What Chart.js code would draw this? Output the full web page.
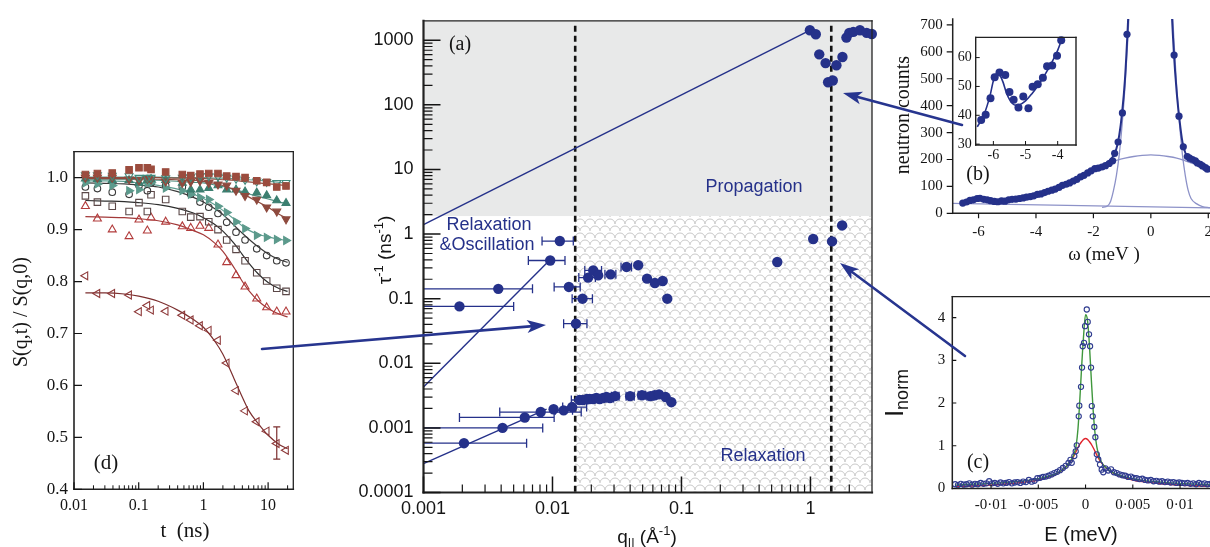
<!DOCTYPE html>
<html>
<head>
<meta charset="utf-8">
<title>Relaxation and propagation</title>
<script src="https://cdn.jsdelivr.net/npm/chart.js@4.4.1/dist/chart.umd.min.js"></script>
<style>
  html, body { margin: 0; padding: 0; background: #fff; }
  #page { position: relative; width: 1210px; height: 547px; overflow: hidden; background: #fff; }
  #page canvas { position: absolute; }
</style>
</head>
<body>
<div id="page">
  <canvas id="chartD"></canvas>
  <canvas id="chartA"></canvas>
  <canvas id="chartB"></canvas>
  <canvas id="chartC"></canvas>
  <canvas id="chartInset"></canvas>
  <canvas id="arrows"></canvas>
</div>
<script>
'use strict';

// ---------- panel (a): relaxation rates vs q ----------
var aQTicks = [0.001, 0.01, 0.1, 1];
var aQTickLabels = ['0.001', '0.01', '0.1', '1'];
var aRateTicks = [0.0001, 0.001, 0.01, 0.1, 1, 10, 100, 1000];
var aRateTickLabels = ['0.0001', '0.001', '0.01', '0.1', '1', '10', '100', '1000'];
var aBoundQ = [0.015, 1.45];
var aRegionRate = 1.9;

var propQ    = [0.99, 1.10, 1.17, 1.31, 1.37, 1.49, 1.59, 1.77, 1.90, 2.00, 2.15, 2.42, 2.73, 2.99];
var propRate = [1430, 1240, 605, 443, 224, 238, 410, 550, 1100, 1300, 1350, 1430, 1300, 1250];

var midQ    = [0.553, 1.05, 1.47, 1.76];
var midRate = [0.37, 0.84, 0.77, 1.36];

var oscQ    = [0.0019, 0.0038, 0.0096, 0.0114, 0.0134, 0.0152, 0.0171, 0.0189, 0.0207, 0.0226, 0.0282, 0.0375, 0.0462, 0.0541, 0.0622, 0.0715, 0.0776];
var oscRate = [0.076, 0.142, 0.39, 0.78, 0.152, 0.041, 0.1, 0.212, 0.274, 0.23, 0.238, 0.31, 0.33, 0.204, 0.175, 0.188, 0.1];
var oscQLo  = [0.0008, 0.0008, 0.0065, 0.0083, 0.0103, 0.0122, 0.0142, 0.016, 0.0178, null, 0.0255, 0.034, null, null, null, null, null];
var oscQHi  = [0.005, 0.007, 0.0125, 0.0145, 0.0164, 0.0185, 0.0204, 0.0215, 0.024, null, 0.031, 0.041, null, null, null, null, null];

var slowQ    = [0.00206, 0.0041, 0.0061, 0.0081, 0.0102, 0.0122, 0.0142, 0.0162, 0.0172, 0.0185, 0.0194, 0.0207, 0.0219, 0.0232, 0.0247, 0.0262, 0.0279, 0.0306, 0.0400, 0.0494, 0.0574, 0.0620, 0.0670, 0.0754, 0.0835];
var slowRate = [0.00058, 0.0010, 0.00145, 0.00176, 0.00194, 0.00187, 0.0021, 0.0027, 0.0027, 0.0028, 0.0028, 0.0028, 0.0029, 0.0028, 0.0029, 0.0030, 0.0029, 0.0031, 0.0031, 0.0032, 0.0031, 0.0032, 0.0033, 0.0030, 0.0025];
var slowQLo  = [0.0008, 0.0008, 0.0019, 0.0039, null, 0.0105, 0.0120, 0.0140, null, null, null, null, null, null, null, null, 0.0262, 0.0286, 0.0372, 0.0462, 0.0540, null, null, null, null];
var slowQHi  = [0.0063, 0.0084, 0.0103, 0.0167, null, 0.0143, 0.0184, 0.0188, null, null, null, null, null, null, null, null, 0.0298, 0.0328, 0.0430, 0.0528, 0.0610, null, null, null, null];

var fitPropQ = [0.001, 0.97],   fitPropRate = [1.4, 1400];
var fitOscQ  = [0.001, 0.0092], fitOscRate  = [0.0043, 0.37];
var fitSlowQ = [0.001, 0.009],  fitSlowRate = [0.00028, 0.00195];

// ---------- panel (d): S(q,t)/S(q,0) ----------
var dTTicks = [0.01, 0.1, 1, 10];
var dTTickLabels = ['0.01', '0.1', '1', '10'];
var dSTicks = [0.4, 0.5, 0.6, 0.7, 0.8, 0.9, 1.0];
var dSTickLabels = ['0.4', '0.5', '0.6', '0.7', '0.8', '0.9', '1.0'];

var dT = [0.015, 0.023, 0.039, 0.071, 0.101, 0.136, 0.155, 0.261, 0.472, 0.637, 0.885, 1.21, 1.68, 2.29, 3.19, 4.4, 6.67, 9.5, 13.6, 18.9];
var dSqFill      = [1.006, 1.008, 1.009, 1.015, 1.019, 1.019, 1.016, 1.011, 1.006, 1.004, 1.007, 1.008, 1.008, 1.003, 1.002, 1.000, 0.994, 0.991, 0.982, 0.984];
var dTriDownOpen = [1.005, 1.005, 1.004, 1.003, 1.000, 1.000, 1.000, 0.999, 1.000, 1.001, 1.003, 1.003, 1.002, 1.000, 0.998, 0.996, 0.993, 0.992, 0.990, 0.990];
var dTriDownFill = [1.000, 1.000, 1.000, 0.997, 0.995, 0.998, 0.997, 0.993, 0.990, 0.992, 0.994, 0.990, 0.987, 0.985, 0.975, 0.965, 0.958, 0.943, 0.935, 0.920];
var dTriUpFill   = [0.998, 0.997, 0.995, 0.995, 0.990, 0.995, 0.997, 0.995, 0.990, 0.977, 0.977, 0.980, 0.985, 0.977, 0.977, 0.973, 0.971, 0.966, 0.956, 0.951];
var dTriRight    = [0.990, 0.988, 0.985, 0.975, 0.977, 0.990, 0.990, 0.980, 0.975, 0.968, 0.962, 0.958, 0.945, 0.933, 0.915, 0.902, 0.889, 0.885, 0.881, 0.879];
var dCircle      = [0.982, 0.979, 0.972, 0.968, 0.985, 0.975, 0.990, 0.985, 0.982, 0.968, 0.953, 0.943, 0.931, 0.914, 0.895, 0.880, 0.863, 0.850, 0.840, 0.836];
var dSqOpen      = [0.965, 0.953, 0.945, 0.935, 0.952, 0.935, 0.967, 0.958, 0.935, 0.924, 0.925, 0.915, 0.900, 0.880, 0.862, 0.840, 0.817, 0.801, 0.787, 0.781];
var dTriUpOpen   = [0.945, 0.921, 0.900, 0.887, 0.919, 0.898, 0.923, 0.915, 0.906, 0.903, 0.907, 0.903, 0.871, 0.837, 0.812, 0.790, 0.767, 0.750, 0.742, 0.742];
var dTriLeft     = [0.811, 0.777, 0.777, 0.774, 0.742, 0.754, 0.745, 0.743, 0.735, 0.726, 0.715, 0.706, 0.687, 0.643, 0.590, 0.551, 0.530, 0.512, 0.488, 0.475];

var dFitT = [0.015, 0.03, 0.06, 0.1, 0.2, 0.4, 0.7, 1, 1.5, 2, 3, 4, 5, 7, 10, 15, 20];
var fSqFill      = [1.000, 1.000, 1.000, 1.000, 1.000, 0.999, 0.999, 0.998, 0.997, 0.996, 0.995, 0.993, 0.992, 0.990, 0.988, 0.986, 0.985];
var fTriDownOpen = [1.001, 1.001, 1.001, 1.001, 1.001, 1.000, 1.000, 1.000, 0.999, 0.999, 0.998, 0.997, 0.996, 0.995, 0.993, 0.991, 0.990];
var fTriDownFill = [0.998, 0.998, 0.998, 0.998, 0.997, 0.996, 0.995, 0.993, 0.989, 0.985, 0.977, 0.970, 0.963, 0.953, 0.943, 0.929, 0.921];
var fTriUpFill   = [0.997, 0.997, 0.997, 0.996, 0.995, 0.993, 0.991, 0.990, 0.986, 0.983, 0.977, 0.973, 0.969, 0.964, 0.959, 0.953, 0.950];
var fTriRight    = [0.994, 0.994, 0.993, 0.990, 0.985, 0.978, 0.968, 0.960, 0.948, 0.937, 0.920, 0.907, 0.899, 0.891, 0.886, 0.881, 0.879];
var fCircle      = [0.990, 0.989, 0.988, 0.986, 0.982, 0.973, 0.962, 0.953, 0.940, 0.929, 0.908, 0.893, 0.882, 0.867, 0.853, 0.842, 0.837];
var fSqOpen      = [0.956, 0.955, 0.954, 0.952, 0.948, 0.941, 0.932, 0.923, 0.910, 0.897, 0.873, 0.852, 0.836, 0.815, 0.798, 0.786, 0.781];
var fTriUpOpen   = [0.925, 0.924, 0.923, 0.921, 0.917, 0.909, 0.898, 0.890, 0.874, 0.858, 0.826, 0.800, 0.783, 0.763, 0.748, 0.737, 0.732];
var fTriLeft     = [0.778, 0.778, 0.776, 0.772, 0.762, 0.745, 0.727, 0.712, 0.685, 0.660, 0.612, 0.577, 0.552, 0.527, 0.504, 0.486, 0.478];

var dErrT = [13.6], dErrLo = [0.458], dErrHi = [0.52];

// ---------- panel (b): neutron counts ----------
var bWTicks = [-6, -4, -2, 0, 2];
var bWTickLabels = ['-6', '-4', '-2', '0', '2'];
var bCTicks = [0, 100, 200, 300, 400, 500, 600, 700];
var bCTickLabels = ['0', '100', '200', '300', '400', '500', '600', '700'];

var bW = [-6.55, -6.42, -6.3, -6.18, -6.05, -5.95, -5.82, -5.7, -5.58, -5.45,
          -5.33, -5.2, -5.08, -4.95, -4.83, -4.7, -4.58, -4.45, -4.33, -4.2,
          -4.08, -3.95, -3.83, -3.7, -3.58, -3.45, -3.33, -3.2, -3.08, -2.95,
          -2.83, -2.7, -2.58, -2.45, -2.33, -2.2, -2.08, -1.95, -1.83, -1.7,
          -1.58, -1.45, -1.33, -1.26, -1.14, -0.99, -0.83,
          0.81, 0.98, 1.13, 1.27, 1.35, 1.45, 1.55, 1.62, 1.72, 1.8, 1.9, 1.97];
var bCounts = [38, 42, 48, 50, 55, 56, 52, 50, 47, 44,
               43, 46, 45, 50, 52, 53, 55, 57, 60, 62,
               65, 70, 72, 77, 82, 86, 90, 96, 104, 108,
               113, 120, 126, 135, 141, 150, 158, 166, 168, 172,
               177, 185, 195, 223, 265, 373, 665,
               588, 361, 247, 211, 205, 200, 195, 187, 182, 176, 170, 164];

var bFitW = [-6.6, -6.4, -6.2, -6.0, -5.8, -5.6, -5.4, -5.2, -5.0, -4.6, -4.2, -3.8, -3.4, -3.0, -2.6, -2.2, -1.9, -1.6, -1.4, -1.3,
             -1.2, -1.1, -1.0, -0.9, -0.8, -0.7, -0.6, 0, 0.6, 0.7, 0.8, 0.9, 1.0, 1.1, 1.2, 1.3, 1.45, 1.6, 1.8, 2.06];
var bFitTotal = [38, 44, 50, 55, 54, 50, 46, 44, 45, 51, 60, 73, 89, 107, 128, 152, 168, 182, 200, 215,
                 240, 290, 375, 500, 700, 950, 1300, 3000, 1150, 820, 600, 450, 345, 265, 225, 208, 198, 188, 176, 160];
var bElW = [-1.7, -1.5, -1.4, -1.3, -1.2, -1.1, -1.0, -0.9, -0.8, -0.7, -0.6, 0, 0.6, 0.7, 0.8, 0.9, 1.0, 1.1, 1.2, 1.3, 1.4, 1.6, 1.8, 2.06];
var bElastic = [22, 28, 45, 85, 140, 218, 330, 470, 650, 870, 1150, 3000, 1150, 870, 650, 470, 330, 218, 140, 85, 55, 35, 25, 21];
var bBroadW = [-1.5, -1.2, -0.9, -0.6, -0.3, 0, 0.3, 0.6, 0.9, 1.2, 1.5, 1.8, 2.06];
var bBroad = [187, 197, 205, 211, 215, 217, 215, 211, 205, 195, 184, 170, 158];
var bBaseW = [-6.9, 2.06], bBase = [37, 20];

var bInWTicks = [-6, -5, -4], bInWTickLabels = ['-6', '-5', '-4'];
var bInCTicks = [30, 40, 50, 60], bInCTickLabels = ['30', '40', '50', '60'];
var bInW = [-6.38, -6.24, -6.09, -5.96, -5.81, -5.63, -5.5, -5.37, -5.22, -5.07, -4.91, -4.78, -4.62, -4.46, -4.33, -4.17, -4.02, -3.89];
var bInCounts = [38.4, 40.2, 45.9, 53.2, 54.8, 54, 48.1, 45.4, 42.7, 46.5, 42.4, 49.9, 50.8, 53, 57, 57.3, 60.6, 66];
var bInFitW = [-6.5, -6.3, -6.1, -6.0, -5.9, -5.8, -5.7, -5.6, -5.5, -5.4, -5.3, -5.2, -5.0, -4.8, -4.6, -4.4, -4.2, -4.0, -3.85];
var bInFit = [36, 40, 47, 52, 54.5, 54, 51.5, 48, 45.5, 44, 43.5, 43.6, 45, 47.5, 50.5, 54, 58, 62.5, 67];

// ---------- panel (c): normalised intensity ----------
var cETicks = [-0.01, -0.005, 0, 0.005, 0.01];
var cETickLabels = ['-0\u00b701', '-0\u00b7005', '0', '0\u00b7005', '0\u00b701'];
var cITicks = [0, 1, 2, 3, 4];
var cITickLabels = ['0', '1', '2', '3', '4'];

var cE = [-0.0138, -0.0135, -0.0132, -0.0129, -0.0126, -0.0123, -0.0120, -0.0117, -0.0114, -0.0111, -0.0108, -0.0105, -0.0102, -0.0099,
          -0.0096, -0.0093, -0.0090, -0.0087, -0.0084, -0.0081, -0.0078, -0.0075, -0.0072, -0.0069, -0.0066, -0.0063, -0.0060, -0.0057,
          -0.0054, -0.0051, -0.0048, -0.0045, -0.0042, -0.0039, -0.0036, -0.0033, -0.0030, -0.0027, -0.0024, -0.0021, -0.0018, -0.0016,
          -0.00146, -0.00119, -0.00104, -0.00093, -0.00072, -0.00066, -0.00048, -0.00037, -0.0003, -0.00016, -0.00005, 0.00013, 0.00023,
          0.00037, 0.00048, 0.00058, 0.00066, 0.00076, 0.00093, 0.00104, 0.00119, 0.00135, 0.00153, 0.00171, 0.00188,
          0.0021, 0.0024, 0.0027, 0.0030, 0.0033, 0.0036, 0.0039, 0.0042, 0.0045, 0.0048, 0.0051, 0.0054, 0.0057, 0.0060, 0.0063,
          0.0066, 0.0069, 0.0072, 0.0075, 0.0078, 0.0081, 0.0084, 0.0087, 0.0090, 0.0093, 0.0096, 0.0099, 0.0102, 0.0105, 0.0108,
          0.0111, 0.0114, 0.0117, 0.0120, 0.0123, 0.0126, 0.0129, 0.0132];
var cI = [0.10, 0.08, 0.11, 0.09, 0.10, 0.12, 0.09, 0.11, 0.10, 0.13, 0.11, 0.12, 0.17, 0.12,
          0.13, 0.11, 0.14, 0.12, 0.13, 0.15, 0.12, 0.14, 0.15, 0.13, 0.16, 0.15, 0.20, 0.16,
          0.18, 0.24, 0.25, 0.27, 0.28, 0.30, 0.33, 0.36, 0.39, 0.43, 0.48, 0.53, 0.60, 0.67,
          0.60, 0.76, 0.87, 1.01, 1.69, 1.94, 2.38, 2.83, 3.33, 3.41, 3.80, 4.19, 3.90,
          3.61, 3.33, 2.83, 1.93, 1.69, 1.44, 1.20, 0.80, 0.68, 0.56, 0.44, 0.38,
          0.47, 0.42, 0.45, 0.38, 0.36, 0.33, 0.31, 0.30, 0.27, 0.28, 0.25, 0.24, 0.22, 0.23, 0.20,
          0.19, 0.20, 0.17, 0.18, 0.16, 0.17, 0.15, 0.16, 0.14, 0.15, 0.13, 0.14, 0.13, 0.12, 0.13,
          0.11, 0.12, 0.10, 0.13, 0.11, 0.12, 0.10, 0.11];
var cFitE = [-0.0138, -0.012, -0.010, -0.008, -0.006, -0.005, -0.004, -0.003, -0.0025, -0.002, -0.0015, -0.0012, -0.001, -0.0008, -0.0006,
             -0.0004, -0.0002, 0, 0.0002, 0.0004, 0.0006, 0.0008, 0.001, 0.0012, 0.0015, 0.002, 0.0025, 0.003, 0.004, 0.005,
             0.006, 0.008, 0.010, 0.012, 0.0132];
var cGreen = [0.08, 0.10, 0.12, 0.15, 0.19, 0.23, 0.28, 0.36, 0.43, 0.52, 0.68, 0.82, 1.0, 1.4, 2.1,
              2.9, 3.6, 4.07, 3.95, 3.4, 2.6, 1.85, 1.3, 0.97, 0.70, 0.52, 0.43, 0.36, 0.28, 0.23,
              0.19, 0.15, 0.12, 0.10, 0.09];
var cRed = [0.05, 0.06, 0.08, 0.11, 0.16, 0.20, 0.26, 0.35, 0.42, 0.52, 0.66, 0.78, 0.87, 0.96, 1.04,
            1.10, 1.15, 1.17, 1.15, 1.10, 1.04, 0.96, 0.87, 0.78, 0.66, 0.52, 0.42, 0.35, 0.26, 0.20,
            0.16, 0.11, 0.08, 0.06, 0.05];

// ---------- shared look ----------
var SERIF = '"Liberation Serif", "DejaVu Serif", serif';
var SANS = '"Liberation Sans", Arial, sans-serif';
var NAVY = '#25318a';
var LAVENDER = '#8d92c8';
var INK = '#141414';

Chart.defaults.animation = false;
Chart.defaults.responsive = false;
Chart.defaults.maintainAspectRatio = false;
Chart.defaults.events = [];
Chart.defaults.plugins.legend.display = false;
Chart.defaults.plugins.tooltip.enabled = false;

function place(id, box) {
  var c = document.getElementById(id);
  c.width = box.w; c.height = box.h;
  c.style.left = box.x + 'px'; c.style.top = box.y + 'px';
  c.style.width = box.w + 'px'; c.style.height = box.h + 'px';
  return c;
}

function xy(xs, ys) {
  return xs.map(function (x, i) { return { x: x, y: ys[i] }; });
}

function axis(o) {
  return {
    type: o.type || 'linear',
    bounds: 'data',
    min: o.min, max: o.max,
    afterBuildTicks: function (s) { s.ticks = o.ticks.map(function (v) { return { value: v }; }); },
    afterFit: o.fit,
    grid: { display: false, drawTicks: false },
    border: { display: false },
    ticks: {
      autoSkip: false, maxRotation: 0, minRotation: 0,
      padding: o.pad, color: INK,
      font: { family: o.font, size: o.size },
      callback: function (v, i) { return o.labels[i]; }
    }
  };
}

function fitters(box, area) {
  return {
    x: function (s) { s.height = box.y + box.h - area.b; },
    y: function (s) { s.width = area.l - box.x; },
    pad: { top: area.t - box.y, right: box.x + box.w - area.r, left: 0, bottom: 0 }
  };
}

function logMinor(min, max) {
  var out = [];
  for (var d = Math.floor(Math.log10(min)); d <= Math.ceil(Math.log10(max)); d++) {
    for (var k = 2; k <= 9; k++) {
      var v = k * Math.pow(10, d);
      if (v > min && v < max) out.push(v);
    }
  }
  return out;
}

function tickMarks(chart, id, values, len, width) {
  var s = chart.scales[id], a = chart.chartArea, ctx = chart.ctx;
  ctx.save();
  ctx.strokeStyle = INK; ctx.lineWidth = width;
  ctx.beginPath();
  values.forEach(function (v) {
    var p = s.getPixelForValue(v);
    if (s.isHorizontal()) { ctx.moveTo(p, a.bottom); ctx.lineTo(p, a.bottom - len); }
    else { ctx.moveTo(a.left, p); ctx.lineTo(a.left + len, p); }
  });
  ctx.stroke();
  ctx.restore();
}

function frame(chart, sides, color) {
  var a = chart.chartArea, ctx = chart.ctx;
  ctx.save();
  ctx.strokeStyle = color || INK;
  ctx.lineCap = 'square';
  function seg(w, x0, y0, x1, y1) {
    if (!w) return;
    ctx.lineWidth = w; ctx.beginPath(); ctx.moveTo(x0, y0); ctx.lineTo(x1, y1); ctx.stroke();
  }
  seg(sides.t, a.left, a.top, a.right, a.top);
  seg(sides.r, a.right, a.top, a.right, a.bottom);
  seg(sides.l, a.left, a.top, a.left, a.bottom);
  seg(sides.b, a.left, a.bottom, a.right, a.bottom);
  ctx.restore();
}

// parts: [text, shift(0 / 1 super / -1 sub), size factor]
function richText(ctx, parts, x, y, size, family, color, rotate) {
  ctx.save();
  ctx.translate(x, y);
  if (rotate) ctx.rotate(-Math.PI / 2);
  ctx.fillStyle = color;
  ctx.textBaseline = 'middle';
  var widths = parts.map(function (p) {
    ctx.font = Math.round(size * (p[2] || 1)) + 'px ' + family;
    return ctx.measureText(p[0]).width;
  });
  var cx = -widths.reduce(function (s, w) { return s + w; }, 0) / 2;
  parts.forEach(function (p, i) {
    ctx.font = Math.round(size * (p[2] || 1)) + 'px ' + family;
    var dy = p[1] === 1 ? -size * 0.36 : (p[1] === -1 ? size * 0.28 : 0);
    ctx.fillText(p[0], cx, dy);
    cx += widths[i];
  });
  ctx.restore();
}

function label(ctx, text, x, y, size, family, color) {
  ctx.save();
  ctx.font = size + 'px ' + family;
  ctx.fillStyle = color; ctx.textAlign = 'center'; ctx.textBaseline = 'middle';
  ctx.fillText(text, x, y);
  ctx.restore();
}

function errBarsX(chart, xs, ys, lo, hi, color, cap) {
  var sx = chart.scales.x, sy = chart.scales.y, ctx = chart.ctx, a = chart.chartArea;
  ctx.save();
  ctx.beginPath(); ctx.rect(a.left, a.top, a.right - a.left, a.bottom - a.top); ctx.clip();
  ctx.strokeStyle = color; ctx.lineWidth = 1.3;
  xs.forEach(function (x, i) {
    if (lo[i] == null) return;
    var py = sy.getPixelForValue(ys[i]);
    var p0 = sx.getPixelForValue(lo[i]), p1 = sx.getPixelForValue(hi[i]);
    ctx.beginPath();
    ctx.moveTo(p0, py); ctx.lineTo(p1, py);
    ctx.moveTo(p0, py - cap); ctx.lineTo(p0, py + cap);
    ctx.moveTo(p1, py - cap); ctx.lineTo(p1, py + cap);
    ctx.stroke();
  });
  ctx.restore();
}

function scalePattern(ctx) {
  var c = document.createElement('canvas');
  c.width = 10; c.height = 14;
  var g = c.getContext('2d');
  g.fillStyle = '#ffffff'; g.fillRect(0, 0, 10, 14);
  g.strokeStyle = '#c9c9c9'; g.lineWidth = 1;
  [[5, 7], [0, 14], [10, 14], [0, 0], [10, 0], [5, 21], [5, -7]].forEach(function (p) {
    g.beginPath(); g.arc(p[0], p[1], 5, Math.PI, 2 * Math.PI); g.stroke();
  });
  return ctx.createPattern(c, 'repeat');
}

// ================= panel (a) =================
var boxA = { x: 340, y: 0, w: 545, h: 547 };
var areaA = { l: 423.5, r: 872, t: 17.4, b: 492.5 };
var fA = fitters(boxA, areaA);

function dots(xs, ys, r) {
  return { type: 'scatter', data: xy(xs, ys), pointRadius: r, pointBackgroundColor: NAVY, pointBorderWidth: 0, clip: false, order: 0 };
}
function curve(xs, ys, color, w) {
  return { type: 'line', data: xy(xs, ys), borderColor: color, borderWidth: w, pointRadius: 0, fill: false, tension: 0, order: 1 };
}

var panelA = {
  id: 'panelA',
  beforeDatasetsDraw: function (chart) {
    var ctx = chart.ctx, a = chart.chartArea, sx = chart.scales.x, sy = chart.scales.y;
    var yB = sy.getPixelForValue(aRegionRate);
    var xB = sx.getPixelForValue(aBoundQ[0]);
    ctx.save();
    ctx.fillStyle = '#e8e9e9';
    ctx.fillRect(a.left, a.top, a.right - a.left, yB - a.top);
    ctx.fillStyle = scalePattern(ctx);
    ctx.fillRect(xB, yB, a.right - xB, a.bottom - yB);
    ctx.strokeStyle = INK; ctx.lineWidth = 2.6; ctx.setLineDash([6, 4]);
    aBoundQ.forEach(function (q) {
      var px = sx.getPixelForValue(q);
      ctx.beginPath(); ctx.moveTo(px, a.top + 5); ctx.lineTo(px, a.bottom); ctx.stroke();
    });
    ctx.restore();
    errBarsX(chart, oscQ, oscRate, oscQLo, oscQHi, NAVY, 4.5);
    errBarsX(chart, slowQ, slowRate, slowQLo, slowQHi, NAVY, 4.5);
  },
  afterDraw: function (chart) {
    var ctx = chart.ctx;
    frame(chart, { l: 2.2, b: 2.2, t: 1.3, r: 1.3 }, '#222');
    tickMarks(chart, 'y', aRateTicks, 17, 1.5);
    tickMarks(chart, 'y', logMinor(0.0001, 2000), 9, 1.2);
    tickMarks(chart, 'x', aQTicks, 16, 1.5);
    tickMarks(chart, 'x', logMinor(0.001, 3), 8, 1.2);
    ctx.save();
    ctx.translate(-boxA.x, -boxA.y);
    label(ctx, '(a)', 460, 45, 20, SERIF, INK);
    label(ctx, 'Propagation', 754, 187, 18, SANS, NAVY);
    label(ctx, 'Relaxation', 489, 225, 18, SANS, NAVY);
    label(ctx, '&Oscillation', 487, 245, 18, SANS, NAVY);
    label(ctx, 'Relaxation', 763, 456, 18, SANS, NAVY);
    richText(ctx, [['\u03c4', 0], ['-1', 1, 0.7], [' (ns', 0], ['-1', 1, 0.7], [')', 0]], 386, 250, 19, SANS, INK, true);
    richText(ctx, [['q', 0], ['||', -1, 0.7], [' (\u00c5', 0], ['-1', 1, 0.7], [')', 0]], 647, 538, 19, SANS, INK, false);
    ctx.restore();
  }
};

new Chart(place('chartA', boxA), {
  type: 'scatter',
  data: { datasets: [
    dots(propQ, propRate, 5.2), dots(midQ, midRate, 5.2), dots(oscQ, oscRate, 5.2), dots(slowQ, slowRate, 5.2),
    curve(fitPropQ, fitPropRate, NAVY, 1.4), curve(fitOscQ, fitOscRate, NAVY, 1.4), curve(fitSlowQ, fitSlowRate, NAVY, 1.4)
  ] },
  options: {
    layout: { padding: fA.pad },
    scales: {
      x: axis({ type: 'logarithmic', min: 0.001, max: 3, ticks: aQTicks, labels: aQTickLabels, fit: fA.x, pad: 6, font: SANS, size: 18 }),
      y: axis({ type: 'logarithmic', min: 0.0001, max: 2000, ticks: aRateTicks, labels: aRateTickLabels, fit: fA.y, pad: 10, font: SANS, size: 18 })
    }
  },
  plugins: [panelA]
});

// ================= panel (d) =================
var boxD = { x: 0, y: 130, w: 305, h: 417 };
var areaD = { l: 74, r: 293.3, t: 151.7, b: 489.3 };
var fD = fitters(boxD, areaD);

var dLook = [
  { y: dSqFill,      fit: fSqFill,      style: 'rect',     rot: 0,   fill: true,  color: '#9b4c3e', line: '#8d4a3d', r: 4.6 },
  { y: dTriDownOpen, fit: fTriDownOpen, style: 'triangle', rot: 180, fill: false, color: '#3f8a7c', line: '#5e9e92', r: 4.6 },
  { y: dTriDownFill, fit: fTriDownFill, style: 'triangle', rot: 180, fill: true,  color: '#8e4a3e', line: '#8e4a3e', r: 4.6 },
  { y: dTriUpFill,   fit: fTriUpFill,   style: 'triangle', rot: 0,   fill: true,  color: '#3c7f70', line: '#4f8f82', r: 4.6 },
  { y: dTriRight,    fit: fTriRight,    style: 'triangle', rot: 90,  fill: true,  color: '#5c9a8c', line: '#5e9e92', r: 4.6 },
  { y: dCircle,      fit: fCircle,      style: 'circle',   rot: 0,   fill: false, color: '#3a3a3a', line: '#3a3a3a', r: 3.3 },
  { y: dSqOpen,      fit: fSqOpen,      style: 'rect',     rot: 0,   fill: false, color: '#5b4848', line: '#2e2e2e', r: 4.6 },
  { y: dTriUpOpen,   fit: fTriUpOpen,   style: 'triangle', rot: 0,   fill: false, color: '#b23b3b', line: '#a33a3a', r: 4.6 },
  { y: dTriLeft,     fit: fTriLeft,     style: 'triangle', rot: 270, fill: false, color: '#8e3a3a', line: '#7c2f2f', r: 4.6 }
];

var dSets = [];
dLook.forEach(function (s) {
  dSets.push({
    type: 'scatter', data: xy(dT, s.y), pointStyle: s.style, rotation: s.rot, pointRadius: s.r,
    pointBackgroundColor: s.fill ? s.color : 'rgba(0,0,0,0)', pointBorderColor: s.color, pointBorderWidth: 1.1,
    clip: false, order: 0
  });
});
dLook.forEach(function (s) {
  dSets.push({ type: 'line', data: xy(dFitT, s.fit), borderColor: s.line, borderWidth: 1.2, pointRadius: 0,
    fill: false, cubicInterpolationMode: 'monotone', order: 1 });
});

var panelD = {
  id: 'panelD',
  afterDatasetsDraw: function (chart) {
    var sx = chart.scales.x, sy = chart.scales.y, ctx = chart.ctx;
    ctx.save();
    ctx.strokeStyle = '#7c2f2f'; ctx.lineWidth = 1.2;
    dErrT.forEach(function (t, i) {
      var px = sx.getPixelForValue(t), p0 = sy.getPixelForValue(dErrLo[i]), p1 = sy.getPixelForValue(dErrHi[i]);
      ctx.beginPath();
      ctx.moveTo(px, p0); ctx.lineTo(px, p1);
      ctx.moveTo(px - 3.5, p0); ctx.lineTo(px + 3.5, p0);
      ctx.moveTo(px - 3.5, p1); ctx.lineTo(px + 3.5, p1);
      ctx.stroke();
    });
    ctx.restore();
  },
  afterDraw: function (chart) {
    var ctx = chart.ctx;
    frame(chart, { l: 1.6, b: 1.6, t: 1.3, r: 1.3 }, '#222');
    tickMarks(chart, 'y', dSTicks, 8, 1.2);
    tickMarks(chart, 'x', dTTicks, 7, 1.2);
    tickMarks(chart, 'x', logMinor(0.01, 24.5), 4, 1);
    ctx.save();
    ctx.translate(-boxD.x, -boxD.y);
    label(ctx, '(d)', 106, 463, 21, SERIF, INK);
    richText(ctx, [['S(q,t) / S(q,0)', 0]], 22, 312, 20, SERIF, INK, true);
    label(ctx, 't  (ns)', 185, 531, 21, SERIF, INK);
    ctx.restore();
  }
};

new Chart(place('chartD', boxD), {
  type: 'scatter',
  data: { datasets: dSets },
  options: {
    layout: { padding: fD.pad },
    scales: {
      x: axis({ type: 'logarithmic', min: 0.01, max: 24.5, ticks: dTTicks, labels: dTTickLabels, fit: fD.x, pad: 7, font: SERIF, size: 16 }),
      y: axis({ min: 0.4, max: 1.05, ticks: dSTicks, labels: dSTickLabels, fit: fD.y, pad: 6, font: SERIF, size: 17 })
    }
  },
  plugins: [panelD]
});

// ================= panel (b) =================
var boxB = { x: 880, y: 0, w: 345, h: 265 };
var areaB = { l: 952.7, r: 1210, t: 12.7, b: 213.3 };
var fB = fitters(boxB, areaB);

var panelB = {
  id: 'panelB',
  afterDraw: function (chart) {
    var ctx = chart.ctx;
    frame(chart, { l: 1.5, b: 1.5 }, '#222');
    tickMarks(chart, 'y', bCTicks, -6, 1.2);
    tickMarks(chart, 'x', bWTicks, -5, 1.2);
    ctx.save();
    ctx.translate(-boxB.x, -boxB.y);
    label(ctx, '(b)', 978, 175, 20, SERIF, INK);
    richText(ctx, [['neutron counts', 0]], 904, 115, 20, SERIF, INK, true);
    label(ctx, '\u03c9 (meV )', 1104, 255, 19, SERIF, INK);
    ctx.restore();
  }
};

new Chart(place('chartB', boxB), {
  type: 'scatter',
  data: { datasets: [
    { type: 'scatter', data: xy(bW, bCounts), pointRadius: 3.6, pointBackgroundColor: NAVY, pointBorderWidth: 0, clip: false, order: 0 },
    { type: 'line', data: xy(bFitW, bFitTotal), borderColor: NAVY, borderWidth: 2, pointRadius: 0, fill: false, cubicInterpolationMode: 'monotone', order: 1 },
    { type: 'line', data: xy(bElW, bElastic), borderColor: LAVENDER, borderWidth: 1.3, pointRadius: 0, fill: false, cubicInterpolationMode: 'monotone', order: 2 },
    { type: 'line', data: xy(bBroadW, bBroad), borderColor: LAVENDER, borderWidth: 1.3, pointRadius: 0, fill: false, cubicInterpolationMode: 'monotone', order: 2 },
    { type: 'line', data: xy(bBaseW, bBase), borderColor: LAVENDER, borderWidth: 1.3, pointRadius: 0, fill: false, order: 2 }
  ] },
  options: {
    layout: { padding: fB.pad },
    scales: {
      x: axis({ min: -6.9, max: 2.06, ticks: bWTicks, labels: bWTickLabels, fit: fB.x, pad: 10, font: SERIF, size: 15 }),
      y: axis({ min: 0, max: 722, ticks: bCTicks, labels: bCTickLabels, fit: fB.y, pad: 10, font: SERIF, size: 15 })
    }
  },
  plugins: [panelB]
});

// inset of (b)
var boxI = { x: 950, y: 25, w: 131, h: 140 };
var areaI = { l: 975.7, r: 1076, t: 30, b: 145 };
var fI = fitters(boxI, areaI);

new Chart(place('chartInset', boxI), {
  type: 'scatter',
  data: { datasets: [
    { type: 'scatter', data: xy(bInW, bInCounts), pointRadius: 4, pointBackgroundColor: NAVY, pointBorderWidth: 0, clip: false, order: 0 },
    { type: 'line', data: xy(bInFitW, bInFit), borderColor: NAVY, borderWidth: 1.6, pointRadius: 0, fill: false, cubicInterpolationMode: 'monotone', order: 1 }
  ] },
  options: {
    layout: { padding: fI.pad },
    scales: {
      x: axis({ min: -6.55, max: -3.43, ticks: bInWTicks, labels: bInWTickLabels, fit: fI.x, pad: 2, font: SERIF, size: 14 }),
      y: axis({ min: 29.7, max: 67, ticks: bInCTicks, labels: bInCTickLabels, fit: fI.y, pad: 4, font: SERIF, size: 14 })
    }
  },
  plugins: [{
    id: 'insetBox',
    beforeDatasetsDraw: function (chart) {
      var a = chart.chartArea, ctx = chart.ctx;
      ctx.save(); ctx.fillStyle = '#fff'; ctx.fillRect(a.left, a.top, a.right - a.left, a.bottom - a.top); ctx.restore();
    },
    afterDraw: function (chart) {
      frame(chart, { l: 1.4, b: 1.4, t: 1.4, r: 1.4 }, '#222');
      tickMarks(chart, 'y', bInCTicks, 4, 1);
      tickMarks(chart, 'x', bInWTicks, 4, 1);
    }
  }]
});

// ================= panel (c) =================
var boxC = { x: 880, y: 270, w: 345, h: 277 };
var areaC = { l: 952.3, r: 1210, t: 296.7, b: 488.5 };
var fC = fitters(boxC, areaC);

var panelC = {
  id: 'panelC',
  afterDraw: function (chart) {
    var ctx = chart.ctx;
    frame(chart, { l: 1.5, b: 1.5, t: 1.3 }, '#222');
    tickMarks(chart, 'y', cITicks, 4, 1.1);
    tickMarks(chart, 'x', cETicks, 4, 1.1);
    ctx.save();
    ctx.translate(-boxC.x, -boxC.y);
    label(ctx, '(c)', 978, 463, 20, SERIF, INK);
    label(ctx, 'E (meV)', 1081, 535, 20, SANS, INK);
    richText(ctx, [['I', 0], ['norm', -1, 0.7]], 896, 393, 26, SANS, INK, true);
    ctx.restore();
  }
};

new Chart(place('chartC', boxC), {
  type: 'scatter',
  data: { datasets: [
    { type: 'scatter', data: xy(cE, cI), pointRadius: 2.6, pointBackgroundColor: 'rgba(0,0,0,0)', pointBorderColor: '#2f3b8f', pointBorderWidth: 1.1, clip: false, order: 0 },
    { type: 'line', data: xy(cFitE, cGreen), borderColor: '#3f973c', borderWidth: 1.4, pointRadius: 0, fill: false, cubicInterpolationMode: 'monotone', order: 1 },
    { type: 'line', data: xy(cFitE, cRed), borderColor: '#e0242c', borderWidth: 1.4, pointRadius: 0, fill: false, cubicInterpolationMode: 'monotone', order: 2 }
  ] },
  options: {
    layout: { padding: fC.pad },
    scales: {
      x: axis({ min: -0.0141, max: 0.01317, ticks: cETicks, labels: cETickLabels, fit: fC.x, pad: 8, font: SERIF, size: 15 }),
      y: axis({ min: 0, max: 4.49, ticks: cITicks, labels: cITickLabels, fit: fC.y, pad: 7, font: SERIF, size: 15 })
    }
  },
  plugins: [panelC]
});

// ================= connecting arrows =================
(function () {
  var c = place('arrows', { x: 0, y: 0, w: 1210, h: 547 });
  c.style.pointerEvents = 'none';
  var ctx = c.getContext('2d');
  ctx.strokeStyle = '#27358f'; ctx.fillStyle = '#27358f';
  ctx.lineWidth = 2.6; ctx.lineCap = 'round';
  [[262, 349, 546, 325], [962, 125, 843, 93], [965, 356, 840, 263]].forEach(function (p) {
    var ang = Math.atan2(p[3] - p[1], p[2] - p[0]), L = 19, W = 6.5;
    ctx.beginPath();
    ctx.moveTo(p[0], p[1]);
    ctx.lineTo(p[2] - Math.cos(ang) * L * 0.7, p[3] - Math.sin(ang) * L * 0.7);
    ctx.stroke();
    ctx.save();
    ctx.translate(p[2], p[3]); ctx.rotate(ang);
    ctx.beginPath(); ctx.moveTo(0, 0); ctx.lineTo(-L, -W); ctx.lineTo(-L * 0.75, 0); ctx.lineTo(-L, W); ctx.closePath(); ctx.fill();
    ctx.restore();
  });
})();
</script>
</body>
</html>
